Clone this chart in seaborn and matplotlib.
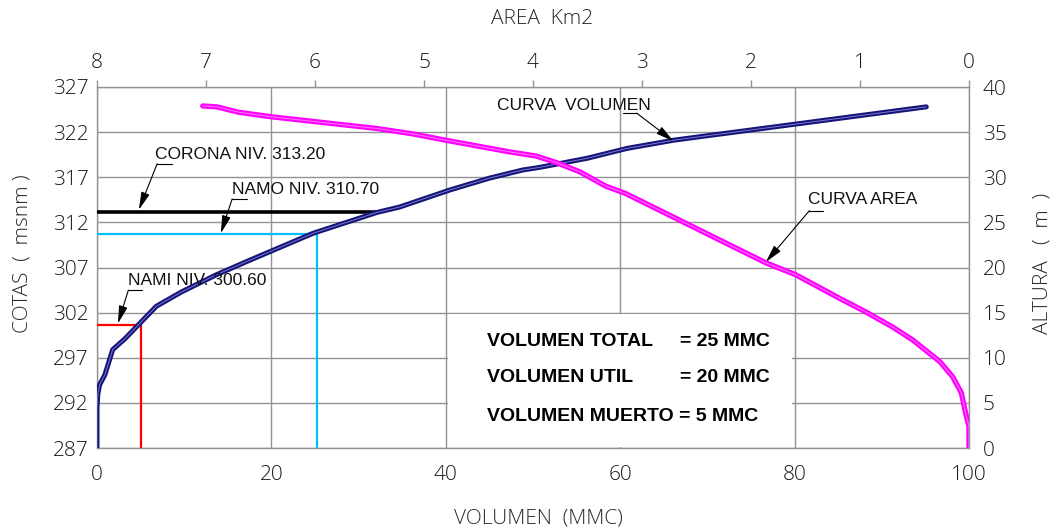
import matplotlib
matplotlib.use("Agg")
import matplotlib.pyplot as plt
from matplotlib import font_manager as fm
from matplotlib.patches import Rectangle
import seaborn as sns
import pandas as pd

# ---------------- data ----------------
volumen = [0.0, 0.0, 0.1, 0.3, 0.9, 1.8, 3.2, 4.9, 6.8, 9.7, 13.7, 17.5, 24.8, 32.1,
           34.7, 40.5, 45.0, 48.8, 50.8, 56.2, 60.8, 66.1, 69.2, 80.2, 95.1]
cota_vol = [287.0, 291.5, 293.0, 294.0, 295.1, 297.9, 299.1, 300.8, 302.7, 304.3, 306.2,
            307.8, 310.8, 313.1, 313.7, 315.6, 316.9, 317.8, 318.1, 319.1, 320.2, 321.1,
            321.5, 322.9, 324.8]

area = [7.03, 6.90, 6.70, 6.40, 5.43, 5.10, 4.80, 4.21, 3.97, 3.78, 3.57, 3.33, 3.15,
        2.69, 2.23, 1.86, 1.59, 1.19, 0.95, 0.70, 0.52, 0.27, 0.15, 0.07, 0.03, 0.0, 0.0]
cota_area = [324.9, 324.8, 324.2, 323.7, 322.4, 321.8, 321.1, 319.8, 319.35, 318.6, 317.6,
             316.0, 315.2, 312.45, 309.7, 307.5, 306.2, 303.6, 302.1, 300.4, 299.0, 296.6,
             294.9, 293.1, 290.8, 289.4, 287.0]

corona_niv, corona_vol = 313.2, 32.1
namo_niv, namo_vol = 310.7, 25.2
nami_niv, nami_vol = 300.6, 5.0

cota_ticks = [287, 292, 297, 302, 307, 312, 317, 322, 327]
vol_ticks = [0, 20, 40, 60, 80, 100]
area_ticks = [8, 7, 6, 5, 4, 3, 2, 1, 0]
altura_ticks = [0, 5, 10, 15, 20, 25, 30, 35, 40]

resumen = [("VOLUMEN TOTAL", "= 25 MMC"), ("VOLUMEN UTIL", "= 20 MMC"),
           ("VOLUMEN MUERTO = 5 MMC", "")]

# ---------------- fonts ----------------
sns.set_theme(style="white")


def pick(cands):
    for fam, w in cands:
        try:
            p = fm.FontProperties(family=fam, weight=w)
            f = fm.findfont(p, fallback_to_default=False)
            if w in ("light", "extra light") and "light" not in f.lower():
                continue
            return fam, w
        except Exception:
            continue
    return "DejaVu Sans", "normal"


thin_fam, thin_w = pick([("Roboto", "light"), ("Lato", "light"), ("Open Sans", "light"),
                         ("DejaVu Sans", "extra light"), ("Roboto", "normal")])
narrow_fam, _ = pick([("Liberation Sans Narrow", "normal"), ("Liberation Sans", "normal")])

plt.rcParams["font.family"] = [thin_fam, "DejaVu Sans"]

W, H = 1056, 530
fig = plt.figure(figsize=(W / 100, H / 100), dpi=100)
ax = fig.add_axes([97 / W, 1 - 448 / H, (969 - 97) / W, (448 - 87) / H])

gray = "#939393"
tick_font = dict(family=thin_fam, weight=thin_w, size=15)

ax.set_xlim(0, 100)
ax.set_ylim(287, 327)
ax.set_xticks(vol_ticks)
ax.set_yticks(cota_ticks)
ax.set_xticklabels([str(v) for v in vol_ticks], fontdict=tick_font, color="#1a1a1a")
ax.set_yticklabels([str(v) for v in cota_ticks], fontdict=tick_font, color="#1a1a1a")
ax.tick_params(axis="x", length=0, pad=12)
ax.tick_params(axis="y", length=0, pad=6)
ax.grid(True, color=gray, lw=1.0)
ax.set_axisbelow(True)
for s in ax.spines.values():
    s.set_color(gray)
    s.set_linewidth(1.0)

# white box hiding grid behind the summary text
ax.add_patch(Rectangle((40.25, 287.15), 39.5, 14.7, facecolor="white", edgecolor="none",
                       zorder=1))

# reference levels
ax.hlines(corona_niv, 0, corona_vol, color="black", lw=2.6, zorder=3)
ax.hlines(namo_niv, 0, namo_vol, color="#00bfff", lw=1.6, zorder=3)
ax.vlines(namo_vol, 287, namo_niv, color="#00bfff", lw=1.6, zorder=3)
ax.hlines(nami_niv, 0, nami_vol, color="#ff0000", lw=1.6, zorder=3)
ax.vlines(nami_vol, 287, nami_niv, color="#ff0000", lw=1.6, zorder=3)

# volume curve (double line look)
dfv = pd.DataFrame({"vol": volumen, "cota": cota_vol})
sns.lineplot(data=dfv, x="vol", y="cota", ax=ax, sort=False, estimator=None,
             color="#14147a", lw=3.6, zorder=4)
sns.lineplot(data=dfv, x="vol", y="cota", ax=ax, sort=False, estimator=None,
             color="#7a7ac8", lw=0.7, zorder=5)
ax.set_xlabel("")
ax.set_ylabel("")

# top axis: area
axt = ax.twiny()
axt.set_xlim(8, 0)
axt.set_xticks(area_ticks)
axt.set_xticklabels([str(v) for v in area_ticks], fontdict=tick_font, color="#1a1a1a")
axt.tick_params(axis="x", length=5, width=1.0, color=gray, pad=5, direction="out")
axt.grid(False)
for s in axt.spines.values():
    s.set_visible(False)
dfa = pd.DataFrame({"area": area, "cota": cota_area})
sns.lineplot(data=dfa, x="area", y="cota", ax=axt, sort=False, estimator=None,
             color="#ff00ff", lw=3.8, zorder=4)
sns.lineplot(data=dfa, x="area", y="cota", ax=axt, sort=False, estimator=None,
             color="#ff70ff", lw=0.8, zorder=5)
axt.set_xlabel("")
axt.set_ylabel("")

# right axis: altura
axr = ax.twinx()
axr.set_ylim(0, 40)
axr.set_yticks(altura_ticks)
axr.set_yticklabels([str(v) for v in altura_ticks], fontdict=tick_font, color="#1a1a1a")
axr.tick_params(axis="y", length=0, pad=10)
axr.grid(False)
for s in axr.spines.values():
    s.set_visible(False)

# axis titles
lab = dict(family=thin_fam, weight=thin_w, size=15, color="#2a2a2a")
fig.text(542 / W, 1 - 19 / H, "AREA  Km2", ha="center", va="center", **lab)
fig.text(23 / W, 1 - 254 / H, "COTAS  (  msnm )", ha="center", va="center", rotation=90, **lab)
fig.text(1042 / W, 1 - 263 / H, "ALTURA   (  m  )", ha="center", va="center", rotation=90, **lab)
fig.text(538 / W, 1 - 518 / H, "VOLUMEN  (MMC)", ha="center", va="center", **lab)

# annotations (text + leader + arrow), in volume/cota coordinates
ann_font = dict(family=narrow_fam, size=12.5, color="#111")
arrow = dict(arrowstyle="-|>,head_length=0.9,head_width=0.22", color="black", lw=0.8,
             shrinkA=0, shrinkB=0, mutation_scale=12)


def leader(text, tx, ty, x0, x1, ly, start, tip):
    ax.text(tx, ty, text, ha="left", va="baseline", zorder=6, **ann_font)
    ax.plot([x0, x1], [ly, ly], color="black", lw=0.8, zorder=6)
    ax.annotate("", xy=tip, xytext=start, arrowprops=arrow, zorder=6)


leader("CORONA NIV. 313.20", 6.7, 319.0, 6.9, 8.6, 318.5, (6.9, 318.5), (4.8, 313.4))
leader("NAMO NIV. 310.70", 15.5, 315.1, 15.5, 17.2, 314.6, (15.5, 314.6), (14.2, 310.8))
leader("NAMI NIV. 300.60", 3.6, 305.1, 3.6, 5.2, 304.5, (3.6, 304.5), (2.4, 300.8))
leader("CURVA AREA", 81.5, 314.0, 81.7, 83.3, 313.3, (81.7, 313.3), (76.7, 307.6))
leader("CURVA  VOLUMEN", 45.9, 324.45, 60.3, 61.9, 324.1, (61.9, 324.1), (66.1, 321.0))

# summary box text
bold = dict(family=narrow_fam, size=14, weight="bold", color="black")
rows_y = [298.3, 294.3, 290.0]
for (left, right), yy in zip(resumen, rows_y):
    ax.text(44.7, yy, left, ha="left", va="baseline", zorder=6, **bold)
    if right:
        ax.text(66.9, yy, right, ha="left", va="baseline", zorder=6, **bold)

fig.savefig("out.png", dpi=100)
